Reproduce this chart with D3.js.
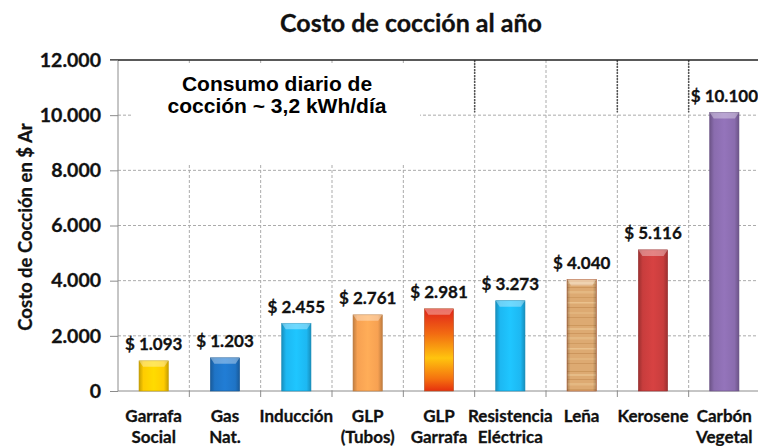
<!DOCTYPE html>
<html>
<head>
<meta charset="utf-8">
<script src="https://cdn.jsdelivr.net/npm/d3@7"></script>
<style>
  body { margin: 0; background: #fff; }
  svg { display: block; }
  .lbl { font-family: Lato, sans-serif; font-weight: 700; fill: #111; stroke: #111; stroke-width: 0.3px; }
</style>
</head>
<body>
<div id="chart"></div>
<script>
// data
const categories = ["Garrafa\nSocial", "Gas\nNat.", "Inducción", "GLP\n(Tubos)", "GLP\nGarrafa",
                    "Resistencia\nEléctrica", "Leña", "Kerosene", "Carbón\nVegetal"];
const costs = [1093, 1203, 2455, 2761, 2981, 3273, 4040, 5116, 10100];
const yTicks = [0, 2000, 4000, 6000, 8000, 10000, 12000];
const barColors = ["#FFCC00", "#1F74C6", "#1DB8F2", "#F7A152", "fire", "#1DB8F2", "wood", "#C83D3D", "#8A6CAE"];
const title = "Costo de cocción al año";
const yTitle = "Costo de Cocción en $ Ar";
const note = ["Consumo diario de", "cocción ~ 3,2 kWh/día"];

const W = 758, H = 446;
const svg = d3.select("#chart").append("svg").attr("width", W).attr("height", H);
const defs = svg.append("defs");

const x = d3.scaleBand().domain(categories).range([118, 760]);
const y = d3.scaleLinear().domain([0, 12000]).range([391, 60]);

const es = d3.formatLocale({ decimal: ",", thousands: ".", grouping: [3], currency: ["$ ", ""] });
const fmt = es.format(",");

// gradients for bars
barColors.forEach((c, i) => {
    if (c === "fire") {
        const g = defs.append("linearGradient").attr("id", "bar" + i)
            .attr("x1", 0).attr("y1", 0).attr("x2", 0).attr("y2", 1);
        [[0, "#E0231A"], [0.3, "#F26A12"], [0.6, "#FFC40E"], [0.85, "#F5720F"], [1, "#E5300E"]]
            .forEach(s => g.append("stop").attr("offset", s[0]).attr("stop-color", s[1]));
    } else if (c === "wood") {
        const p = defs.append("pattern").attr("id", "bar" + i).attr("patternUnits", "userSpaceOnUse")
            .attr("width", 40).attr("height", 46);
        p.append("rect").attr("width", 40).attr("height", 46).attr("fill", "#DDAA72");
        [[3, "#C99358", 1], [6, "#E9C08C", 2], [11, "#C48C52", 0.8], [15, "#E6BB86", 2.5],
         [21, "#CD975D", 1], [26, "#EDC793", 1.5], [31, "#C28A50", 0.8], [36, "#E4B780", 2], [41, "#CA945A", 1]]
            .forEach(s => p.append("rect").attr("y", s[0]).attr("width", 40).attr("height", s[2])
                .attr("fill", s[1]).attr("opacity", 0.8));
    } else {
        const g = defs.append("linearGradient").attr("id", "bar" + i)
            .attr("x1", 0).attr("y1", 0).attr("x2", 1).attr("y2", 0);
        const base = d3.color(c);
        [[0, base.darker(0.7)], [0.15, base], [0.5, base.brighter(0.2)], [0.85, base], [1, base.darker(0.7)]]
            .forEach(s => g.append("stop").attr("offset", s[0]).attr("stop-color", s[1]));
    }
});
const edge = defs.append("linearGradient").attr("id", "edge")
    .attr("x1", 0).attr("y1", 0).attr("x2", 1).attr("y2", 0);
[[0, "#000", 0.22], [0.12, "#000", 0], [0.88, "#000", 0], [1, "#000", 0.22]]
    .forEach(s => edge.append("stop").attr("offset", s[0]).attr("stop-color", s[1]).attr("stop-opacity", s[2]));

// title
svg.append("text")
    .attr("class", "lbl")
    .attr("x", 411).attr("y", 22)
    .attr("text-anchor", "middle").attr("dominant-baseline", "central")
    .style("font-size", "25px")
    .text(title);

// gridlines
const grid = svg.append("g");
grid.selectAll("line.h")
    .data(yTicks.filter(t => t > 0 && t < 12000))
    .join("line")
    .attr("x1", 118).attr("x2", W)
    .attr("y1", d => y(d)).attr("y2", d => y(d))
    .attr("stroke", "#ababab").attr("stroke-dasharray", "3,2");

const seps = categories.slice(1).map(c => x(c));
grid.selectAll("line.v")
    .data(seps)
    .join("line")
    .attr("x1", d => d).attr("x2", d => d)
    .attr("y1", y(12000)).attr("y2", y(0))
    .attr("stroke", "#ababab").attr("stroke-dasharray", "3,2");

// darker dotted marks near the top
grid.selectAll("line.dk")
    .data([categories[5], categories[7], categories[8]])
    .join("line")
    .attr("x1", d => x(d)).attr("x2", d => x(d))
    .attr("y1", y(12000)).attr("y2", y(10000) - 3)
    .attr("stroke", "#555").attr("stroke-width", 1.5).attr("stroke-dasharray", "2,1");

// note box
svg.append("rect").attr("x", 133).attr("y", 63).attr("width", 287).attr("height", 102).attr("fill", "#fff");
svg.append("text")
    .attr("text-anchor", "middle")
    .style("font-family", "'Liberation Sans', Arial, sans-serif").style("font-weight", 700).style("font-size", "21px")
    .selectAll("tspan")
    .data(note)
    .join("tspan")
    .attr("x", 277).attr("y", (d, i) => 83 + i * 22)
    .attr("dominant-baseline", "central")
    .text(d => d);

// axes
svg.append("line").attr("x1", 118).attr("x2", 118).attr("y1", y(12000)).attr("y2", y(0))
    .attr("stroke", "#8c8c8c");
svg.append("line").attr("x1", 118).attr("x2", W).attr("y1", y(0)).attr("y2", y(0))
    .attr("stroke", "#8c8c8c");
svg.append("line").attr("x1", 110).attr("x2", W).attr("y1", y(12000)).attr("y2", y(12000))
    .attr("stroke", "#222").attr("stroke-width", 1.6);

const yAxis = svg.append("g").attr("transform", "translate(118,0)")
    .call(d3.axisLeft(y).tickValues(yTicks).tickSize(8).tickPadding(9).tickFormat(d => fmt(d)));
yAxis.select(".domain").remove();
yAxis.selectAll(".tick line").attr("stroke", "#8c8c8c");
yAxis.selectAll("text")
    .attr("class", "lbl")
    .style("font-size", "19.5px");

svg.selectAll("line.xt")
    .data(seps)
    .join("line")
    .attr("x1", d => d).attr("x2", d => d)
    .attr("y1", y(0)).attr("y2", y(0) + 6)
    .attr("stroke", "#8c8c8c");

svg.append("text")
    .attr("class", "lbl")
    .attr("transform", `translate(25,${227}) rotate(-90)`)
    .attr("text-anchor", "middle").attr("dominant-baseline", "central")
    .style("font-size", "18.5px")
    .text(yTitle);

// bars
const bw = x.bandwidth() * 0.41;
const bars = svg.append("g").selectAll("g")
    .data(categories.map((c, i) => ({ c, v: costs[i], i })))
    .join("g")
    .attr("transform", d => `translate(${x(d.c) + (x.bandwidth() - bw) / 2},0)`);

bars.append("rect")
    .attr("y", d => y(d.v)).attr("width", bw).attr("height", d => y(0) - y(d.v))
    .attr("fill", d => `url(#bar${d.i})`)
    .attr("stroke", d => barColors[d.i].startsWith("#") ? d3.color(barColors[d.i]).darker(0.8) : "#b0552a")
    .attr("stroke-width", 0.6);
bars.filter(d => barColors[d.i] === "wood").append("rect")
    .attr("y", d => y(d.v)).attr("width", bw).attr("height", d => y(0) - y(d.v))
    .attr("fill", "url(#edge)");
bars.append("path")
    .attr("d", d => {
        const t = y(d.v);
        return `M0,${t}H${bw}L${bw - 4},${t + 6}H4Z`;
    })
    .attr("fill", "#fff").attr("opacity", 0.35);

bars.append("text")
    .attr("class", "lbl")
    .attr("x", bw / 2).attr("y", d => y(d.v) - 17)
    .attr("text-anchor", "middle").attr("dominant-baseline", "central")
    .style("font-size", "17px")
    .text(d => "$ " + fmt(d.v));

// category labels
svg.append("g").selectAll("text")
    .data(categories)
    .join("text")
    .attr("class", "lbl")
    .attr("text-anchor", "middle")
    .style("font-size", "17px")
    .selectAll("tspan")
    .data(c => c.split("\n").map((t, k) => ({ t, k, c })))
    .join("tspan")
    .attr("x", d => x(d.c) + x.bandwidth() / 2)
    .attr("y", d => 415 + d.k * 21)
    .attr("dominant-baseline", "central")
    .text(d => d.t);
</script>
</body>
</html>
